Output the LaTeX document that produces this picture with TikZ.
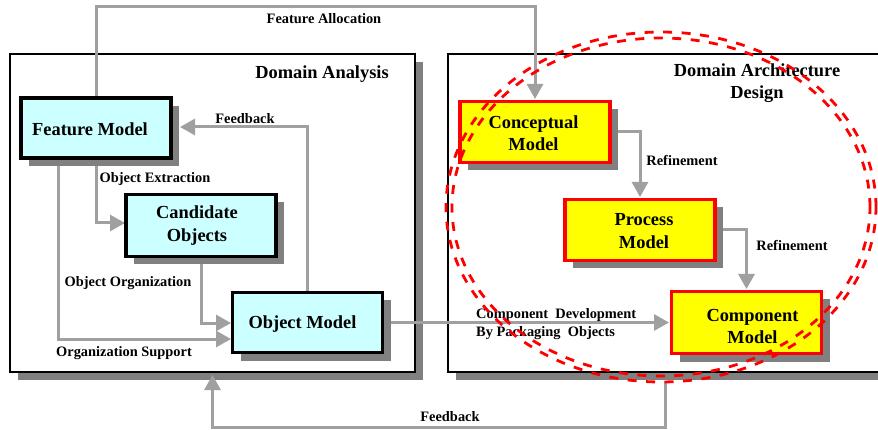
\documentclass[tikz,border=0pt]{standalone}
\usepackage{fontspec}
\setmainfont{Liberation Serif}
\usetikzlibrary{arrows.meta,shadows}
\definecolor{linegray}{RGB}{160,160,160}
\definecolor{shadowgray}{RGB}{128,128,128}
\definecolor{boxcyan}{RGB}{204,255,255}
\definecolor{boxyellow}{RGB}{255,255,0}
\definecolor{boxred}{RGB}{255,0,0}
\begin{document}
\begin{tikzpicture}[x=1pt,y=-1pt,
  boxshadow/.style={general shadow={fill=shadowgray, shadow xshift=8pt, shadow yshift=-8pt}},
  frame/.style={draw=black, line width=2.7pt, fill=white, inner sep=0pt, boxshadow},
  modelbox/.style={line width=3.6pt, minimum width=150pt, minimum height=60pt,
    inner sep=0pt, boxshadow},
  anabox/.style={modelbox, draw=black, fill=boxcyan},
  desbox/.style={modelbox, draw=boxred, fill=boxyellow},
  boxtext/.style={align=center, inner sep=0pt, font=\fontsize{18.4}{22.5}\selectfont\bfseries},
  title/.style={align=center, inner sep=0pt, font=\fontsize{18.4}{22}\selectfont\bfseries},
  lbl/.style={inner sep=0pt, font=\fontsize{14.4}{18}\selectfont\bfseries},
  flow/.style={draw=linegray, line width=3pt,
    -{Triangle[length=15pt,width=16pt]}},
  ring/.style={draw=boxred, line width=2.8pt, dash pattern=on 9pt off 9.5pt}]
\clip (0,0) rectangle (878,430);

% outer frames
\node[frame, minimum width=405pt, minimum height=318pt] (da) at (212.5,213) {};
\node[frame, minimum width=452pt, minimum height=318pt] (dad) at (674,213) {};
\node[title] (datitle) at (322,74) {Domain Analysis};
\node[title] (dadtitle) at (757,83) {Domain Architecture\\Design};

% helper coordinates for routed connectors
\coordinate (topy) at (0,7);
\coordinate (fbtop) at (665,381);
\coordinate (fbbot) at (665,427);

% connectors
\draw[flow] (96,97) coordinate (fmtop) -- (fmtop |- topy) -| (535,99) coordinate (cmtop);
\draw[flow] (307.5,291) coordinate (omtop) |- (180,127) coordinate (fmright);
\draw[flow] (96,159) coordinate (fmbot) |- (125,223) coordinate (coleft);
\draw[flow] (201,258) coordinate (cobot) |- (231,323) coordinate (omleft);
\draw[flow] (58,159) coordinate (fmbot2) |- (231,339) coordinate (omleft2);
\draw[flow] (383,322.5) coordinate (omright) -- (669,322.5) coordinate (cmpleft);
\draw[flow] (611,132) coordinate (cmright) -| (640,197) coordinate (pmtop);
\draw[flow] (716,230) coordinate (pmright) -| (746.5,289) coordinate (cmptop);
\draw[flow] (fbtop) -- (fbbot) -| (212.5,375) coordinate (dabot);

% model boxes
\node[anabox] (fm) at (96,128) {};
\node[anabox, minimum height=62pt] (co) at (201,225.5) {};
\node[anabox] (om) at (307.5,322.5) {};
\node[desbox, minimum height=61pt] (cm) at (535,132) {};
\node[desbox, minimum height=61pt] (pm) at (640,230) {};
\node[desbox, minimum height=62pt] (cmp) at (746.5,322.5) {};

% box captions
\node[boxtext] (fmtext) at ([xshift=-6pt,yshift=-1pt]fm.center) {Feature Model};
\node[boxtext] (cotext) at ([xshift=-4pt]co.center) {Candidate\\Objects};
\node[boxtext] (omtext) at ([xshift=-5pt,yshift=-2pt]om.center) {Object Model};
\node[boxtext] (cmtext) at ([xshift=-1.5pt,yshift=-1pt]cm.center) {Conceptual\\Model};
\node[boxtext] (pmtext) at ([xshift=4pt,yshift=-1pt]pm.center) {Process\\Model};
\node[boxtext] (cmptext) at ([xshift=6pt,yshift=-4pt]cmp.center) {Component\\Model};

% connector labels
\node[lbl] (lfa) at (324,19) {Feature Allocation};
\node[lbl] (lfb1) at (245,119) {Feedback};
\node[lbl] (loe) at (155,179) {Object Extraction};
\node[lbl] (loo) at (128,283) {Object Organization};
\node[lbl] (los) at (124,353) {Organization Support};
\node[lbl, anchor=west, align=left] (lcd) at (476,324)
  {Component\ \ Development\\By\ Packaging\ \ Objects};
\node[lbl] (lr1) at (682,161) {Refinement};
\node[lbl] (lr2) at (792,246) {Refinement};
\node[lbl] (lfb2) at (450,417) {Feedback};

% double dashed ring around the design models
\draw[ring] (661,207) ellipse [x radius=215pt, y radius=175pt];
\draw[ring] (661,207) ellipse [x radius=209pt, y radius=169pt];
\end{tikzpicture}
\end{document}
